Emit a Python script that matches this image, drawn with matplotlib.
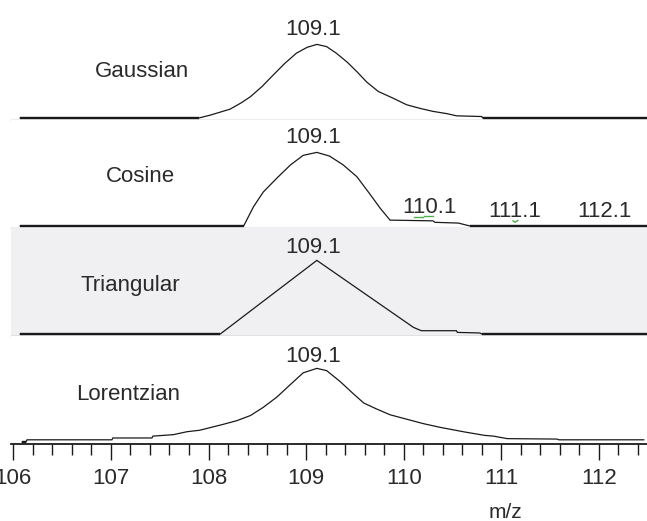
import numpy as np
import matplotlib
matplotlib.use("Agg")
import matplotlib.pyplot as plt
from matplotlib.ticker import MultipleLocator

plt.rcParams['font.family'] = ['Liberation Sans', 'DejaVu Sans']

# peak profiles (m/z, relative intensity %)
gauss_mz = [106.07, 107.90, 108.02, 108.12, 108.22, 108.34, 108.43, 108.55, 108.66, 108.78,
            108.90, 109.01, 109.11, 109.21, 109.31, 109.42, 109.52, 109.62, 109.74, 109.89,
            110.03, 110.17, 110.30, 110.44, 110.54, 110.80, 110.81, 112.55]
gauss_int = [0, 0, 4, 8, 12, 21, 29, 43, 58, 74,
             88, 96, 100, 97, 88, 76, 63, 49, 36, 27,
             18, 13, 9, 6, 3, 2, 0, 0]

cos_mz = [106.07, 108.36, 108.46, 108.56, 108.70, 108.84, 108.97, 109.11, 109.24, 109.38,
          109.52, 109.65, 109.76, 109.86, 110.30, 110.32, 110.56, 110.68, 112.55]
cos_int = [0, 0, 26, 46, 65, 83, 96, 100, 95, 83,
           67, 44, 24, 8, 7, 5, 4, 0, 0]

tri_mz = [106.07, 108.12, 109.11, 110.10, 110.18, 110.54, 110.55, 110.78, 110.80, 112.55]
tri_int = [0, 0, 100, 9, 4.5, 4.5, 2.2, 1.4, 0, 0]

lor_mz = [106.09, 106.13, 106.14, 107.01, 107.02, 107.42, 107.43, 107.64, 107.78, 107.91,
          108.03, 108.15, 108.29, 108.43, 108.56, 108.70, 108.83, 108.97, 109.11, 109.21,
          109.35, 109.48, 109.59, 109.72, 109.86, 110.03, 110.20, 110.37, 110.63, 110.83,
          110.92, 111.06, 111.57, 111.59, 112.46]
lor_int = [0, 0, 3, 3, 5.5, 5.5, 8, 10, 14, 16,
           20, 24, 29, 36, 47, 61, 77, 94, 100, 97,
           82, 66, 53, 45, 37, 31, 25, 20, 13.5, 9,
           8, 4.6, 4, 3, 3]

panel_names = ["Gaussian", "Cosine", "Triangular", "Lorentzian"]
name_x = [107.32, 107.30, 107.20, 107.18]
name_y = [56, 60, 58, 57]
peak_mz = 109.07
peak_label = "109.1"
peak_label_y = [113, 113, 110, 109]

# isotope labels in the Cosine panel
iso_labels = ["110.1", "111.1", "112.1"]
iso_x = [110.26, 111.14, 112.06]
iso_y = [18, 12, 12]

profiles = [(gauss_mz, gauss_int), (cos_mz, cos_int), (tri_mz, tri_int), (lor_mz, lor_int)]
backgrounds = ["white", "white", "#f0f0f2", "white"]

W, H = 647, 521
fig = plt.figure(figsize=(W / 100, H / 100), dpi=100)

text_col = "#2a2a2a"
line_col = "#1a1a1a"
left = 11 / W
borders = [120, 228, 336, 444]
panel_h = 108

axes = []
for i, (mz, inten) in enumerate(profiles):
    ax = fig.add_axes([left, (H - borders[i]) / H, 1 - left, panel_h / H],
                      sharex=axes[0] if axes else None)
    axes.append(ax)
    ax.set_facecolor(backgrounds[i])
    mz = np.array(mz)
    inten = np.array(inten, dtype=float)
    ax.plot(mz, inten, color=line_col, lw=0.9, solid_joinstyle="miter")
    zero = np.where(inten == 0, inten, np.nan)
    ax.plot(mz, zero, color=line_col, lw=1.7, solid_capstyle="butt")
    ax.set_ylim(-2.7, 144)
    ax.set_yticks([])
    for s in ["left", "right", "top"]:
        ax.spines[s].set_visible(False)
    if i < 3:
        ax.spines["bottom"].set_color("#a6a6a6")
        ax.spines["bottom"].set_linewidth(1.0)
        ax.tick_params(axis="x", which="both", bottom=False, labelbottom=False)
    else:
        ax.spines["bottom"].set_color(line_col)
        ax.spines["bottom"].set_linewidth(1.3)
    ax.text(name_x[i], name_y[i], panel_names[i], ha="center", va="baseline",
            fontsize=16, color=text_col)
    ax.text(peak_mz, peak_label_y[i], peak_label, ha="center", va="baseline",
            fontsize=16, color=text_col)

axes[0].set_xlim(105.976, 112.493)

for lab, x, y in zip(iso_labels, iso_x, iso_y):
    axes[1].text(x, y, lab, ha="center", va="baseline", fontsize=16, color=text_col)

# small green centroid marks
axes[1].plot([110.11, 110.20], [12, 12], color="#4cb04c", lw=1.0)
axes[1].plot([110.21, 110.30], [14, 14], color="#4cb04c", lw=1.0)
axes[1].plot([111.12, 111.14, 111.17], [7, 5, 7.5], color="#4cb04c", lw=1.0)

ax = axes[3]
ax.xaxis.set_major_locator(MultipleLocator(1))
ax.xaxis.set_minor_locator(MultipleLocator(0.2))
ax.tick_params(axis="x", which="major", length=11.5, width=1.0, color=line_col,
               labelsize=16, labelcolor=text_col, pad=5.5)
ax.tick_params(axis="x", which="minor", length=8, width=1.0, color=line_col)
ax.xaxis.set_major_formatter(plt.FuncFormatter(lambda v, p: f"{v:.0f}"))

fig.text(505 / W, (H - 518) / H, "m/z", ha="center", va="baseline",
         fontsize=15, color=text_col)

fig.savefig("out.png", dpi=100)
